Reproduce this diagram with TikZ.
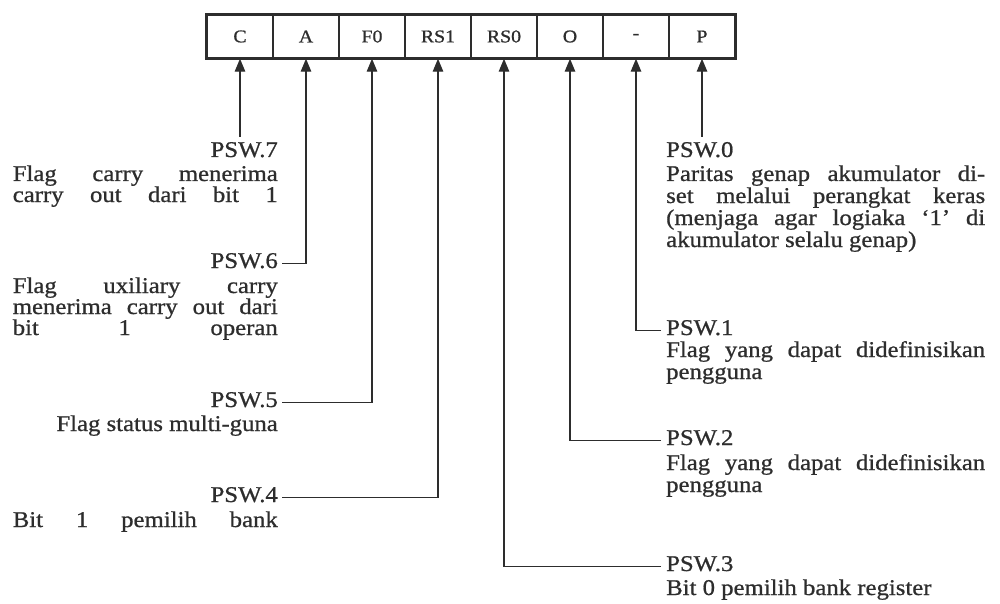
\documentclass[tikz,border=0pt]{standalone}
\usepackage{fontspec}
\setmainfont{Liberation Serif}[FakeStretch=1.1,FakeBold=0.8]
\usetikzlibrary{arrows.meta,calc}
\definecolor{ink}{RGB}{45,45,45}
\begin{document}
\begin{tikzpicture}[x=1pt,y=-1pt,
  cell/.style={draw=ink, line width=1.4pt, minimum width=66pt, minimum height=43pt, inner sep=0pt, text=ink, font=\fontsize{18}{18}\selectfont},
  lbl/.style={inner sep=0pt, text=ink, font=\fontsize{22.5}{21.5}\selectfont},
  conn/.style={draw=ink, line width=1.3pt},
  arr/.style={conn, -{Triangle[length=13pt,width=10.5pt]}}]
\useasboundingbox[fill=white] (0,0) rectangle (1000,604);
% register cells
\node[cell] (c7) at (240,36.5) {C};
\node[cell] (c6) at (306,36.5) {A};
\node[cell] (c5) at (372,36.5) {F0};
\node[cell] (c4) at (438,36.5) {RS1};
\node[cell] (c3) at (504,36.5) {RS0};
\node[cell] (c2) at (570,36.5) {O};
\node[cell] (c1) at (636,36.5) {-};
\node[cell] (c0) at (702,36.5) {P};
\draw[draw=ink, line width=2pt] (c7.north west) rectangle (c0.south east);
% left labels
\node[lbl, anchor=base east] (p7) at (278,157) {PSW.7};
\node[lbl, anchor=base east] (d7a) at (278,181) {\makebox[265pt][s]{Flag carry menerima}};
\node[lbl, anchor=base east] (d7b) at (278,202) {\makebox[265pt][s]{carry out dari bit 1}};
\node[lbl, anchor=base east] (p6) at (278,268) {PSW.6};
\node[lbl, anchor=base east] (d6a) at (278,293) {\makebox[265pt][s]{Flag uxiliary carry}};
\node[lbl, anchor=base east] (d6b) at (278,314) {\makebox[265pt][s]{menerima carry out dari}};
\node[lbl, anchor=base east] (d6c) at (278,335) {\makebox[265pt][s]{bit 1 operan}};
\node[lbl, anchor=base east] (p5) at (278,407) {PSW.5};
\node[lbl, anchor=base east] (d5a) at (278,431) {Flag status multi-guna};
\node[lbl, anchor=base east] (p4) at (278,502) {PSW.4};
\node[lbl, anchor=base east] (d4a) at (278,527) {\makebox[265pt][s]{Bit 1 pemilih bank}};
% right labels
\node[lbl, anchor=base west] (p0) at (666,157) {PSW.0};
\node[lbl, anchor=base west] (d0a) at (666,181) {\makebox[319pt][s]{Paritas genap akumulator di-}};
\node[lbl, anchor=base west] (d0b) at (666,203) {\makebox[319pt][s]{set melalui perangkat keras}};
\node[lbl, anchor=base west] (d0c) at (666,225) {\makebox[319pt][s]{(menjaga agar logiaka ‘1’ di}};
\node[lbl, anchor=base west] (d0d) at (666,247) {akumulator selalu genap)};
\node[lbl, anchor=base west] (p1) at (666,335) {PSW.1};
\node[lbl, anchor=base west] (d1a) at (666,357) {\makebox[319pt][s]{Flag yang dapat didefinisikan}};
\node[lbl, anchor=base west] (d1b) at (666,379) {pengguna};
\node[lbl, anchor=base west] (p2) at (666,445) {PSW.2};
\node[lbl, anchor=base west] (d2a) at (666,470) {\makebox[319pt][s]{Flag yang dapat didefinisikan}};
\node[lbl, anchor=base west] (d2b) at (666,492) {pengguna};
\node[lbl, anchor=base west] (p3) at (666,571) {PSW.3};
\node[lbl, anchor=base west] (d3a) at (666,595) {Bit 0 pemilih bank register};
% connectors
\draw[arr] ($(c7.south |- p7.north)+(0,-5)$) -- (c7.south);
\draw[arr] ([xshift=4pt,yshift=4.5pt]p6.base east) -| (c6.south);
\draw[arr] ([xshift=4pt,yshift=4.5pt]p5.base east) -| (c5.south);
\draw[arr] ([xshift=4pt,yshift=4.5pt]p4.base east) -| (c4.south);
\draw[arr] ([xshift=-5pt,yshift=4.5pt]p3.base west) -| (c3.south);
\draw[arr] ([xshift=-5pt,yshift=4.5pt]p2.base west) -| (c2.south);
\draw[arr] ([xshift=-5pt,yshift=4.5pt]p1.base west) -| (c1.south);
\draw[arr] ($(c0.south |- p0.north)+(0,-5)$) -- (c0.south);
\end{tikzpicture}
\end{document}
